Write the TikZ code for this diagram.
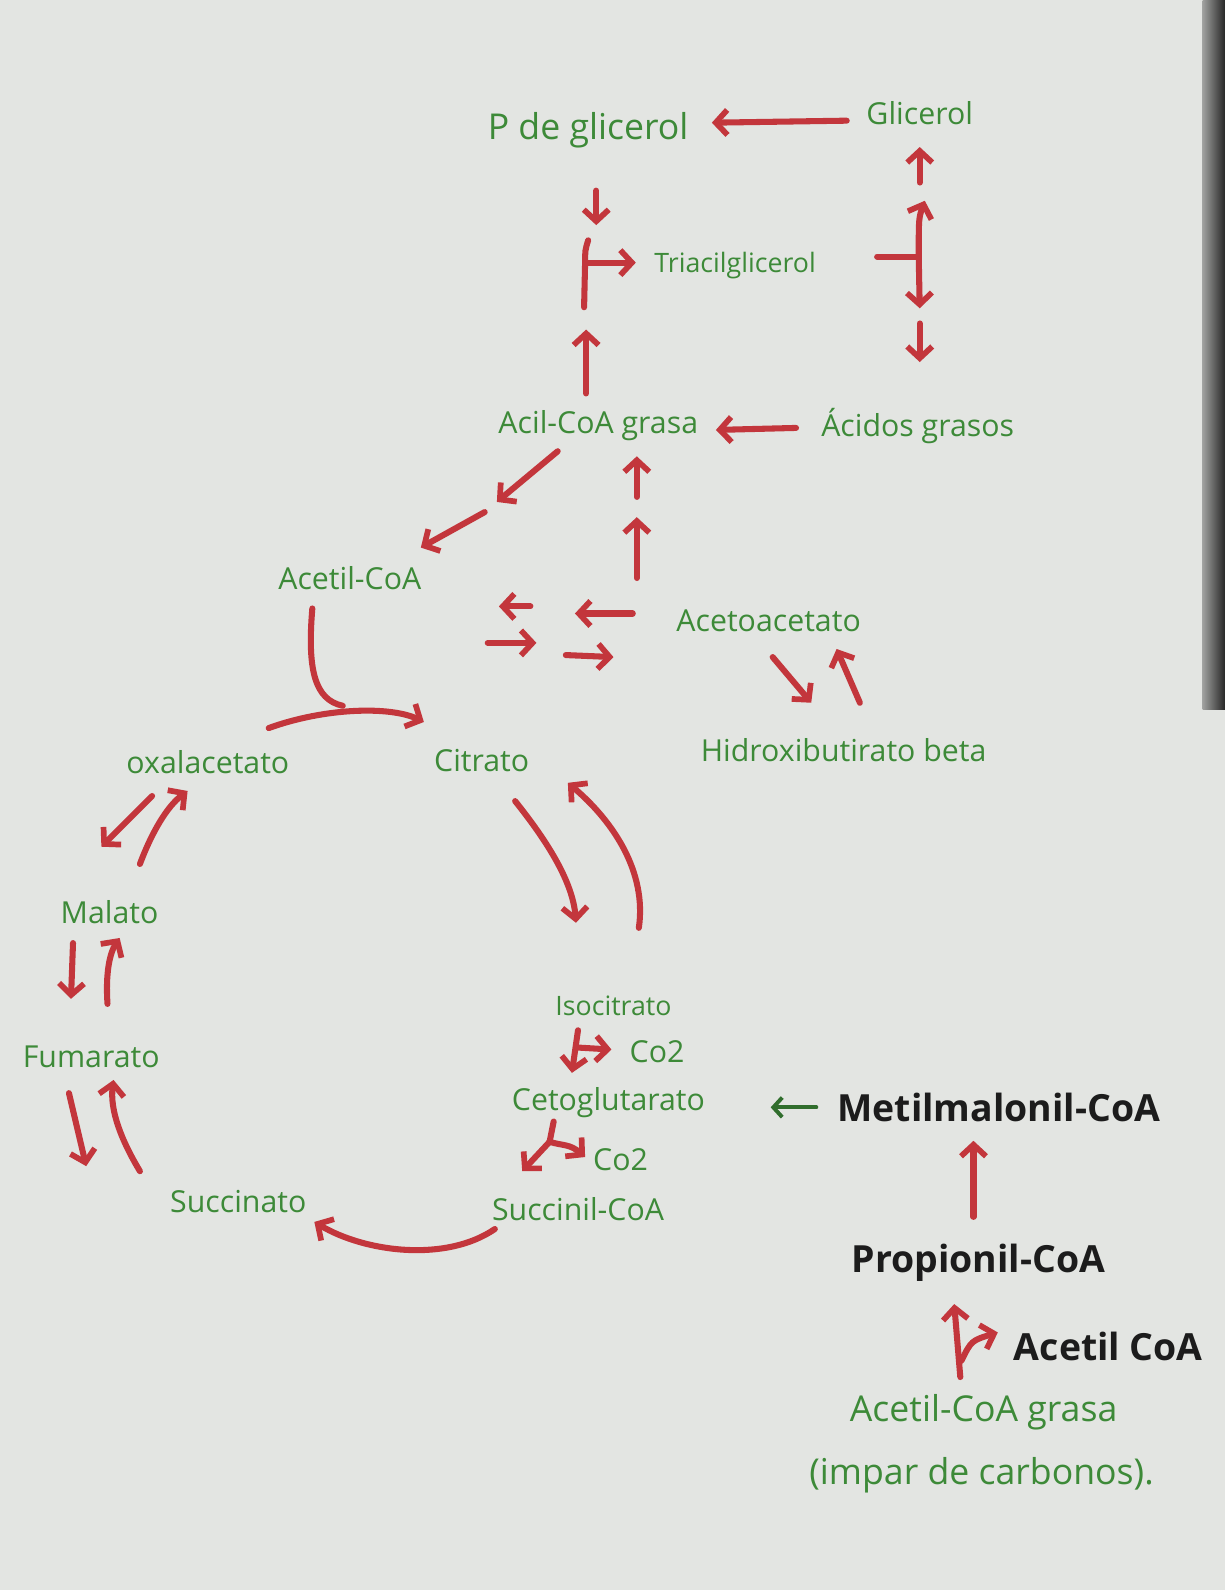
\documentclass[tikz,border=0pt]{standalone}
\usepackage{fontspec}
\setmainfont{Open Sans}
\usetikzlibrary{arrows.meta}
\definecolor{paper}{HTML}{E3E5E2}
\definecolor{ink}{HTML}{3D8A38}
\definecolor{rd}{HTML}{C3363C}
\definecolor{blk}{HTML}{1C1C1C}
\tikzset{
 lbl/.style={text=ink, font=\fontsize{17}{20}\selectfont, inner sep=0pt},
 lblL/.style={text=ink, font=\fontsize{20}{24}\selectfont, inner sep=0pt},
 lblS/.style={text=ink, font=\fontsize{15}{18}\selectfont, inner sep=0pt},
 big/.style={text=blk, font=\fontsize{21}{25}\selectfont\bfseries, inner sep=0pt},
 arr/.style={draw=rd, line width=3.4pt, line cap=round, line join=round, -{Straight Barb[length=6.5pt,width=14pt,line width=3.2pt]}},
 darr/.style={draw=rd, line width=3.4pt, line cap=round, line join=round, {Straight Barb[length=6.5pt,width=14pt,line width=3.2pt]}-{Straight Barb[length=6.5pt,width=14pt,line width=3.2pt]}},
 ln/.style={draw=rd, line width=3.4pt, line cap=round, line join=round},
 garr/.style={draw=ink!80!black, line width=2.2pt, line cap=round, -{Straight Barb[length=5pt,width=11pt,line width=2.2pt]}},
}
\begin{document}
\begin{tikzpicture}[x=0.02cm,y=-0.02cm]
\fill[paper] (0,0) rectangle (1208,1568);
\shade[left color=paper!70!black, right color=black!85] (1186,0) rectangle (1208,700);
\useasboundingbox (0,0) rectangle (1208,1568);

% ---- labels ----
\node[lblL] (pdg) at (580,128) {P de glicerol};
\node[lbl] (gli) at (907,112) {Glicerol};
\node[lblS] (tag) at (725,262) {Triacilglicerol};
\node[lbl] (acil) at (590,420) {Acil-CoA grasa};
\node[lbl] (acidos) at (905,420) {Ácidos grasos};
\node[lbl] (acetil) at (345,570) {Acetil-CoA};
\node[lbl] (acetoac) at (758,612) {Acetoacetato};
\node[lbl] (hidroxi) at (832,740) {Hidroxibutirato beta};
\node[lbl] (oxal) at (205,752) {oxalacetato};
\node[lbl] (citr) at (475,750) {Citrato};
\node[lbl] (mal) at (108,900) {Malato};
\node[lbl] (fum) at (90,1042) {Fumarato};
\node[lblS] (iso) at (605,992) {Isocitrato};
\node[lbl] (co2a) at (648,1037) {Co2};
\node[lbl] (ceto) at (600,1087) {Cetoglutarato};
\node[lbl] (co2b) at (612,1144) {Co2};
\node[lbl] (succoa) at (570,1192) {Succinil-CoA};
\node[lbl] (succ) at (235,1185) {Succinato};
\node[big] (metil) at (985,1092) {Metilmalonil-CoA};
\node[big] (prop) at (965,1245) {Propionil-CoA};
\node[big] (acetilb) at (1093,1328) {Acetil CoA};
\node[lblL] (acg) at (970,1393) {Acetil-CoA grasa};
\node[lblL] (impar) at (968,1455) {(impar de carbonos).};

% ---- coordinates for hand-drawn arrows ----
\coordinate (gA) at (835,119);  \coordinate (gB) at (702,121);
\coordinate (pdA) at (588,188); \coordinate (pdB) at (588,222);
\coordinate (bkT) at (580,237); \coordinate (bkM) at (577,259); \coordinate (bkB) at (576,303);
\coordinate (bkR) at (627,259);
\coordinate (upA) at (578,388); \coordinate (upB) at (578,325);
\coordinate (glA) at (907,180); \coordinate (glB) at (907,145);
\coordinate (rbL) at (865,253); \coordinate (rbM) at (906,253);
\coordinate (rbT) at (912,198); \coordinate (rbB) at (907,304);
\coordinate (adA) at (907,319); \coordinate (adB) at (907,357);
\coordinate (acA) at (785,422); \coordinate (acB) at (706,424);
\coordinate (d1A) at (550,445); \coordinate (d1B) at (490,495);
\coordinate (d2A) at (478,505); \coordinate (d2B) at (415,540);
\coordinate (u1A) at (628,490); \coordinate (u1B) at (628,450);
\coordinate (u2A) at (628,570); \coordinate (u2B) at (628,510);
\coordinate (s1A) at (624,605); \coordinate (s1B) at (567,605);
\coordinate (s2A) at (523,598); \coordinate (s2B) at (492,598);
\coordinate (s3A) at (481,634); \coordinate (s3B) at (529,634);
\coordinate (s4A) at (558,646); \coordinate (s4B) at (605,648);
\coordinate (hA) at (762,648);  \coordinate (hB) at (800,693);
\coordinate (hC) at (848,693);  \coordinate (hD) at (825,640);
\coordinate (cvA) at (308,600); \coordinate (cvJ) at (338,696);
\coordinate (cvL) at (265,718); \coordinate (cvR) at (418,712);
\coordinate (ciA) at (508,790); \coordinate (ciB) at (568,910);
\coordinate (icA) at (630,915); \coordinate (icB) at (560,772);
\coordinate (omA) at (150,785); \coordinate (omB) at (100,835);
\coordinate (moA) at (138,852); \coordinate (moB) at (185,780);
\coordinate (mfA) at (72,930);  \coordinate (mfB) at (70,985);
\coordinate (fmA) at (106,990); \coordinate (fmB) at (118,925);
\coordinate (fsA) at (68,1078); \coordinate (fsB) at (85,1150);
\coordinate (sfA) at (138,1155); \coordinate (sfB) at (112,1065);
\coordinate (ssA) at (488,1212); \coordinate (ssB) at (310,1205);
\coordinate (ikA) at (570,1016); \coordinate (ikB) at (564,1058);
\coordinate (ikM) at (569,1033); \coordinate (ikC) at (603,1035);
\coordinate (ksA) at (546,1106); \coordinate (ksM) at (542,1126);
\coordinate (ksB) at (515,1155); \coordinate (ksC) at (577,1141);
\coordinate (pmA) at (960,1200); \coordinate (pmB) at (960,1125);
\coordinate (apA) at (947,1358); \coordinate (apB) at (941,1286);
\coordinate (apM) at (948,1342); \coordinate (apC) at (984,1314);
\coordinate (grA) at (805,1092); \coordinate (grB) at (760,1092);

% ---- top: glycerol / triacylglycerol ----
\draw[arr] (gA) -- (gB);
\draw[arr] (pdA) -- (pdB);
\draw[ln] (bkT) .. controls (577,247) .. (bkM) -- (bkB);
\draw[arr] (bkM) -- (bkR);
\draw[arr] (upA) -- (upB);
\draw[arr] (glA) -- (glB);
\draw[ln] (rbL) -- (rbM);
\draw[darr] (rbT) .. controls (906,215) .. (rbM) -- (rbB);
\draw[arr] (adA) -- (adB);
\draw[arr] (acA) -- (acB);

% ---- middle ----
\draw[arr] (d1A) -- (d1B);
\draw[arr] (d2A) -- (d2B);
\draw[arr] (u1A) -- (u1B);
\draw[arr] (u2A) -- (u2B);
\draw[arr] (s1A) -- (s1B);
\draw[arr] (s2A) -- (s2B);
\draw[arr] (s3A) -- (s3B);
\draw[arr] (s4A) -- (s4B);
\draw[arr] (hA) -- (hB);
\draw[arr] (hC) -- (hD);
\draw[ln] (cvA) .. controls (303,660) and (310,690) .. (cvJ);
\draw[arr] (cvL) .. controls (320,698) and (385,696) .. (cvR);

% ---- Krebs cycle ----
\draw[arr] (ciA) .. controls (540,830) and (565,870) .. (ciB);
\draw[arr] (icA) .. controls (638,860) and (605,810) .. (icB);
\draw[arr] (omA) -- (omB);
\draw[arr] (moA) .. controls (150,820) and (165,795) .. (moB);
\draw[arr] (mfA) -- (mfB);
\draw[arr] (fmA) .. controls (104,960) and (108,940) .. (fmB);
\draw[arr] (fsA) -- (fsB);
\draw[arr] (sfA) .. controls (120,1125) and (108,1095) .. (sfB);
\draw[arr] (ssA) .. controls (440,1245) and (360,1235) .. (ssB);
\draw[arr] (ikA) -- (ikB);
\draw[arr] (ikM) -- (ikC);
\draw[ln] (ksA) -- (ksM);
\draw[arr] (ksM) -- (ksB);
\draw[arr] (ksM) .. controls (555,1130) and (562,1128) .. (ksC);

% ---- odd-chain branch ----
\draw[garr] (grA) -- (grB);
\draw[arr] (pmA) -- (pmB);
\draw[arr] (apA) -- (apB);
\draw[arr] (apM) .. controls (958,1322) .. (apC);
\end{tikzpicture}
\end{document}
